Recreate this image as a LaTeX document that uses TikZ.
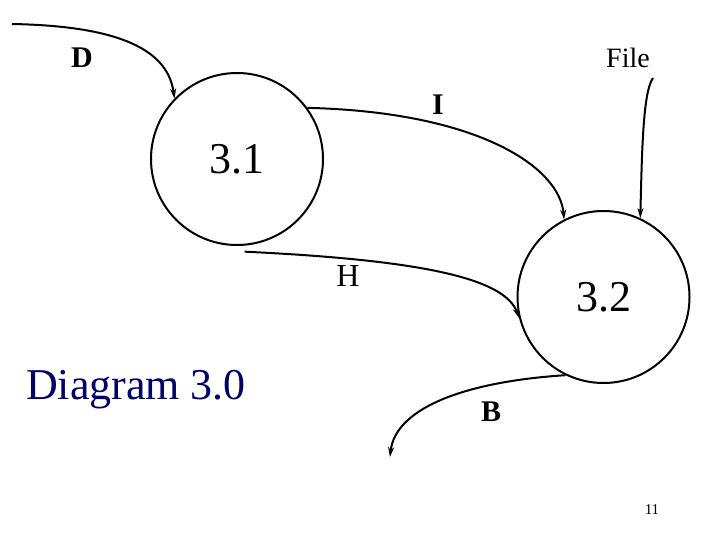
\documentclass[tikz,border=0pt]{standalone}
\usepackage{fontspec}
\setmainfont{Liberation Serif}
\usetikzlibrary{arrows.meta}
\definecolor{navy}{RGB}{0,0,102}
\begin{document}
\begin{tikzpicture}[x=1pt,y=-1pt,
  proc/.style={draw,circle,line width=2pt,minimum size=172pt,inner sep=0pt,font=\fontsize{44}{48}\selectfont},
  flow/.style={line width=2pt,-{Stealth[length=10pt,width=6pt]}},
  lbl/.style={inner sep=0pt,font=\fontsize{28}{30}\selectfont},
  blbl/.style={inner sep=0pt,font=\fontsize{30}{32}\selectfont\bfseries}]
\path[use as bounding box] (0,0) rectangle (720,540);
\node[proc] (p31) at (237,159) {3.1};
\node[proc] (p32) at (603.5,297) {3.2};
\coordinate (dsrc) at (12,24);
\coordinate (fsrc) at (653,78);
\coordinate (bdst) at (390,457);
\draw[flow] (dsrc) .. controls (120,26) and (168,50) .. (p31.136);
\draw[flow] (p31.36) .. controls (480,112) and (560,168) .. (p32.117);
\draw[flow] (fsrc) .. controls (643,92) and (642,150) .. (p32.65);
\draw[flow] ([yshift=-6pt]p31.-85) .. controls (420,260) and (505,278) .. (p32.194);
\draw[flow] (p32.244) .. controls (460,382) and (395,410) .. (bdst);
\node[blbl] (lD) at (82,58) {D};
\node[lbl] (lF) at (628,58) {File};
\node[blbl] (lI) at (438,105) {I};
\node[lbl,font=\fontsize{32}{34}\selectfont] (lH) at (348,276) {H};
\node[blbl] (lB) at (491,412) {B};
\node[inner sep=0pt,text=navy,font=\fontsize{44}{48}\selectfont] (title) at (136,390) {Diagram 3.0};
\node[inner sep=0pt,font=\fontsize{15}{16}\selectfont] (pg) at (652,510) {11};
\end{tikzpicture}
\end{document}
